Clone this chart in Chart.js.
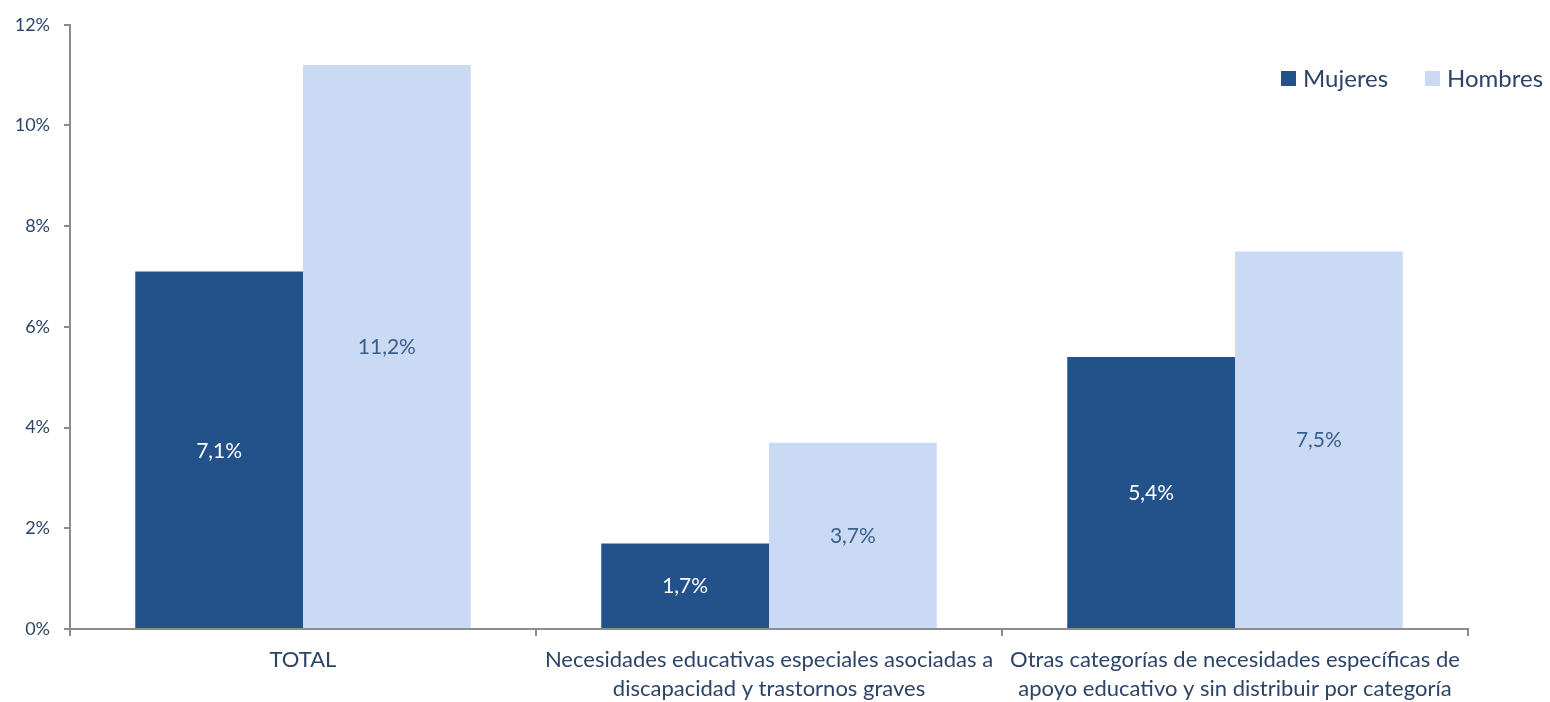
<!DOCTYPE html>
<html>
<head>
<meta charset="utf-8">
<script src="https://cdn.jsdelivr.net/npm/chart.js@4.4.0/dist/chart.umd.min.js"></script>
<style>
html,body{margin:0;padding:0;background:#fff;}
#wrap{width:1550px;height:702px;position:relative;}
</style>
</head>
<body>
<div id="wrap"><canvas id="c" width="1550" height="702"></canvas></div>
<script>
const categories = [
  ["TOTAL"],
  ["Necesidades educativas especiales asociadas a", "discapacidad y trastornos graves"],
  ["Otras categorías de necesidades específicas de", "apoyo educativo y sin distribuir por categoría"]
];
const seriesNames = ["Mujeres", "Hombres"];
const mujeres = [7.1, 1.7, 5.4];
const hombres = [11.2, 3.7, 7.5];
const yTicks = [0, 2, 4, 6, 8, 10, 12];

const FONT = "Lato, 'Open Sans', sans-serif";
const TEXT = "#2c4468";
const AXIS = "#8c8c8c";
const DARK = "#23528a";
const LIGHT = "#cad9f4";

function fmt(v){ return v.toFixed(1).replace('.', ',') + '%'; }

const labelPlugin = {
  id: 'barLabels',
  afterDatasetsDraw(chart){
    const ctx = chart.ctx;
    ctx.save();
    ctx.font = "21px " + FONT;
    ctx.textAlign = 'center';
    ctx.textBaseline = 'middle';
    chart.data.datasets.forEach((ds, di) => {
      const meta = chart.getDatasetMeta(di);
      meta.data.forEach((bar, i) => {
        const v = ds.data[i];
        ctx.fillStyle = di === 0 ? '#ffffff' : '#3a5e8c';
        ctx.fillText(fmt(v), bar.x, (bar.y + bar.base) / 2 + 1);
      });
    });
    ctx.restore();
  }
};

const legendPlugin = {
  id: 'customLegend',
  afterDraw(chart){
    const ctx = chart.ctx;
    ctx.save();
    ctx.font = "24px " + FONT;
    ctx.textBaseline = 'middle';
    ctx.textAlign = 'left';
    const xs = [1281, 1425];
    const y = 78;
    chart.data.datasets.forEach((ds, di) => {
      ctx.fillStyle = ds.backgroundColor;
      ctx.fillRect(xs[di], y - 7, 15, 15);
      ctx.fillStyle = TEXT;
      ctx.fillText(ds.label, xs[di] + 22, y + 1);
    });
    ctx.restore();
  }
};

new Chart(document.getElementById('c'), {
  type: 'bar',
  data: {
    labels: categories,
    datasets: [
      { label: seriesNames[0], data: mujeres, backgroundColor: DARK },
      { label: seriesNames[1], data: hombres, backgroundColor: LIGHT }
    ]
  },
  options: {
    responsive: false,
    animation: false,
    devicePixelRatio: 1,
    layout: { padding: { left: 0, right: 82, top: 22, bottom: 0 } },
    plugins: { legend: { display: false }, tooltip: { enabled: false } },
    datasets: { bar: { categoryPercentage: 0.72, barPercentage: 1.0 } },
    scales: {
      x: {
        grid: { display: true, offset: true, drawOnChartArea: false, drawTicks: true, tickLength: 7, color: AXIS, lineWidth: 2 },
        border: { color: AXIS, width: 2 },
        ticks: { color: TEXT, font: { family: FONT, size: 22, lineHeight: 1.3 }, padding: 10, maxRotation: 0, autoSkip: false },
        afterFit(scale){ scale.height = 73; }
      },
      y: {
        min: 0, max: 12,
        afterBuildTicks(scale){ scale.ticks = yTicks.map(v => ({ value: v })); },
        grid: { display: true, drawOnChartArea: false, drawTicks: true, tickLength: 6, color: AXIS, lineWidth: 2 },
        border: { color: AXIS, width: 2 },
        ticks: { color: TEXT, font: { family: FONT, size: 18 }, padding: 14, callback: v => v + '%' },
        afterFit(scale){ scale.width = 70; }
      }
    }
  },
  plugins: [labelPlugin, legendPlugin]
});
</script>
</body>
</html>
